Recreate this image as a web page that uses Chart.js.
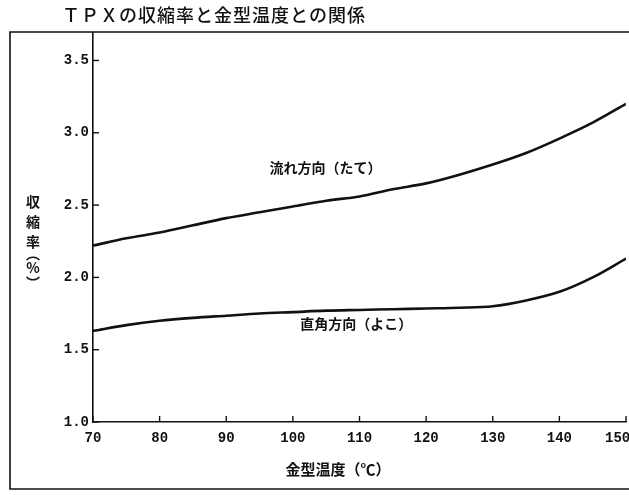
<!DOCTYPE html>
<html><head><meta charset="utf-8">
<style>html,body{margin:0;padding:0;background:#fff}#wrap{position:relative;width:629px;height:495px}canvas{display:block}</style>
<script src="https://cdn.jsdelivr.net/npm/chart.js@4/dist/chart.umd.min.js"></script>
</head><body><div id="wrap"><canvas id="c" width="629" height="495"></canvas></div>
<script>
const titleText = 'ＴＰＸの収縮率と金型温度との関係';
const xTitle = '金型温度（℃）';
const yTitleChars = ['収', '縮', '率', '︵', '%', '︶'];
const seriesNames = ['流れ方向（たて）', '直角方向（よこ）'];
const temps = [70, 75, 80, 85, 90, 95, 100, 105, 110, 115, 120, 125, 130, 135, 140, 145, 150];
const flowDir = [2.22, 2.27, 2.31, 2.36, 2.41, 2.45, 2.49, 2.53, 2.56, 2.61, 2.65, 2.71, 2.78, 2.86, 2.96, 3.07, 3.20];
const perpDir = [1.63, 1.67, 1.70, 1.72, 1.735, 1.75, 1.76, 1.77, 1.775, 1.78, 1.785, 1.79, 1.80, 1.84, 1.90, 2.00, 2.13];
const xTicks = [70, 80, 90, 100, 110, 120, 130, 140, 150];
const yTicks = [1.0, 1.5, 2.0, 2.5, 3.0, 3.5];

const INK = '#111';
const toPts = (ys) => temps.map((t, i) => ({x: t, y: ys[i]}));

const decor = {
  id: 'decor',
  afterDraw(chart) {
    const ctx = chart.ctx, xs = chart.scales.x, ys = chart.scales.y, ca = chart.chartArea;
    ctx.save();
    // outer frame
    ctx.strokeStyle = INK; ctx.lineWidth = 1.6;
    ctx.beginPath();
    ctx.moveTo(640, 32); ctx.lineTo(10, 32); ctx.lineTo(10, 489); ctx.lineTo(640, 489);
    ctx.stroke();
    // inward tick marks
    ctx.lineWidth = 1.4;
    yTicks.forEach(v => { const p = ys.getPixelForValue(v); ctx.beginPath(); ctx.moveTo(ca.left, p); ctx.lineTo(ca.left + 6, p); ctx.stroke(); });
    xTicks.forEach(v => { const p = xs.getPixelForValue(v); ctx.beginPath(); ctx.moveTo(p, ca.bottom); ctx.lineTo(p, ca.bottom - 6); ctx.stroke(); });
    // title
    ctx.fillStyle = INK;
    ctx.font = '500 18px "Noto Sans CJK JP"';
    ctx.letterSpacing = '1px';
    ctx.textAlign = 'left'; ctx.textBaseline = 'middle';
    ctx.fillText(titleText, 62, 15);
    ctx.letterSpacing = '0px';
    // y axis title (vertical)
    ctx.font = 'bold 14px "Noto Sans CJK JP"';
    ctx.textAlign = 'center';
    const yPos = [202, 222, 242, 254, 268, 283];
    yTitleChars.forEach((ch, i) => ctx.fillText(ch, 33, yPos[i]));
    // x axis title
    ctx.font = 'bold 15px "Noto Sans CJK JP"';
    ctx.fillText(xTitle, 338, 469);
    // series labels in data coordinates
    ctx.font = 'bold 14px "Noto Sans CJK JP"';
    ctx.fillText(seriesNames[0], xs.getPixelForValue(104.9), ys.getPixelForValue(2.76));
    ctx.fillText(seriesNames[1], xs.getPixelForValue(109.5), ys.getPixelForValue(1.68));
    ctx.restore();
  }
};

new Chart(document.getElementById('c'), {
  type: 'line',
  data: {
    datasets: [
      {label: seriesNames[0], data: toPts(flowDir), borderColor: INK, borderWidth: 2.6, pointRadius: 0, cubicInterpolationMode: 'monotone', fill: false},
      {label: seriesNames[1], data: toPts(perpDir), borderColor: INK, borderWidth: 2.6, pointRadius: 0, cubicInterpolationMode: 'monotone', fill: false}
    ]
  },
  options: {
    responsive: false, animation: false, devicePixelRatio: 1,
    layout: {padding: {left: 0, top: 33, right: 3, bottom: 0}},
    plugins: {legend: {display: false}, title: {display: false}, tooltip: {enabled: false}},
    scales: {
      x: {
        type: 'linear', min: 70, max: 150,
        afterBuildTicks: (a) => { a.ticks = xTicks.map(v => ({value: v})); },
        afterFit: (s) => { s.height = 73; s.paddingRight = 0; s.paddingLeft = 0; },
        grid: {drawOnChartArea: false, drawTicks: false},
        border: {display: true, color: INK, width: 1.6},
        ticks: {padding: 8, color: INK, font: {family: '"Liberation Mono"', size: 14, weight: 'bold'}, maxRotation: 0, autoSkip: false,
          callback: v => (v === xTicks[xTicks.length - 1] ? String(v) + '\u00a0\u00a0' : String(v))}
      },
      y: {
        type: 'linear', min: 1.0, max: 3.69,
        afterBuildTicks: (a) => { a.ticks = yTicks.map(v => ({value: v})); },
        afterFit: (s) => { s.width = 93; s.paddingTop = 0; s.paddingBottom = 0; },
        grid: {drawOnChartArea: false, drawTicks: false},
        border: {display: true, color: INK, width: 1.6},
        ticks: {padding: 4, color: INK, font: {family: '"Liberation Mono"', size: 14, weight: 'bold'}, callback: v => Number(v).toFixed(1)}
      }
    }
  },
  plugins: [decor]
});
</script></body></html>
